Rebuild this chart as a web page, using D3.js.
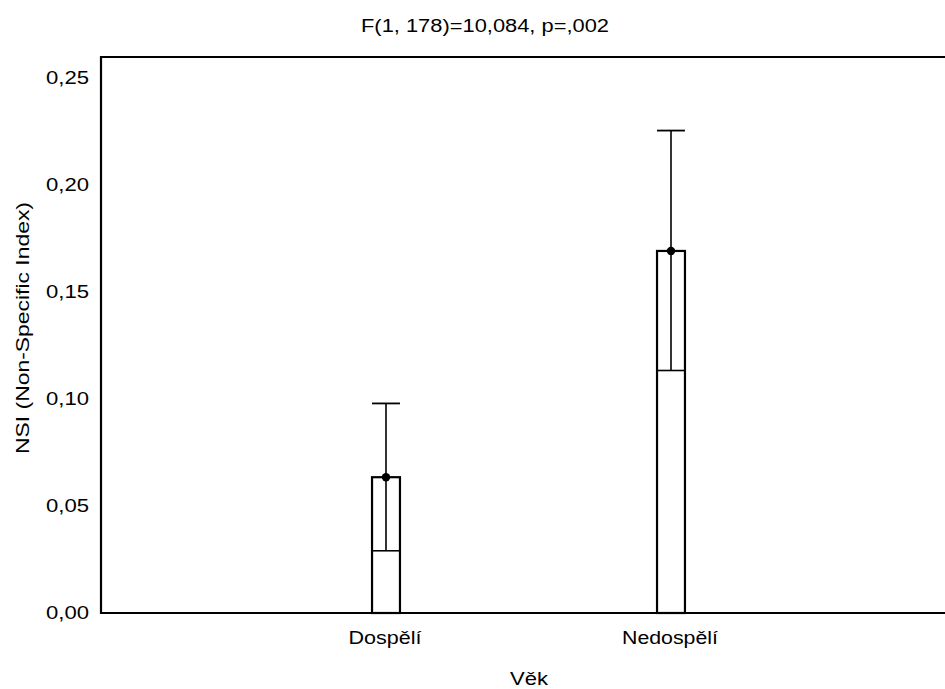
<!DOCTYPE html>
<html><head><meta charset="utf-8">
<script src="https://cdn.jsdelivr.net/npm/d3@7"></script>
<style>body{margin:0;background:#fff}svg text{font-family:"Liberation Sans",Arial,sans-serif;fill:#000}</style>
</head><body><svg id="c" width="945" height="689"></svg>
<script>
const categories = ["Dospělí", "Nedospělí"];
const means = [0.0635, 0.1693];
const medians = [0.0291, 0.1134];
const upper = [0.0980, 0.2256];
const yTicks = [0, 0.05, 0.10, 0.15, 0.20, 0.25];
const title = "F(1, 178)=10,084, p=,002";
const xTitle = "Věk";
const yTitle = "NSI (Non-Specific Index)";

const svg = d3.select("#c");
const x = d3.scaleLinear().domain([0, categories.length + 1]).range([101, 956]);
const y = d3.scaleLinear().domain([0, 0.26]).range([613, 57]);
const fmt = d => d3.format(".2f")(d).replace(".", ",");
const fs = 17.5;

// frame
svg.append("line").attr("x1", 101).attr("x2", 945).attr("y1", y(0.26)).attr("y2", y(0.26)).attr("stroke", "#000").attr("stroke-width", 2.2);
svg.append("line").attr("x1", 101).attr("x2", 945).attr("y1", y(0)).attr("y2", y(0)).attr("stroke", "#000").attr("stroke-width", 2.2);
svg.append("line").attr("x1", 101).attr("x2", 101).attr("y1", y(0.26) - 1).attr("y2", y(0) + 1).attr("stroke", "#000").attr("stroke-width", 2.2);

// y axis labels
const yAxis = d3.axisLeft(y).tickValues(yTicks).tickSize(0).tickPadding(12).tickFormat(fmt);
const ga = svg.append("g").attr("transform", "translate(101,0)").call(yAxis);
ga.select(".domain").remove();
ga.selectAll("text").attr("font-size", fs).attr("font-family", "Liberation Sans")
  .attr("textLength", 43).attr("lengthAdjust", "spacingAndGlyphs");

// x labels
const xw = [73, 96];
categories.forEach((c, i) => {
  svg.append("text").attr("x", x(i + 1) - 1).attr("y", 644).attr("text-anchor", "middle")
    .attr("font-size", fs).attr("textLength", xw[i]).attr("lengthAdjust", "spacingAndGlyphs").text(c);
});

// boxes
const bw = (x(1) - x(0)) * 0.098;
categories.forEach((c, i) => {
  const cx = x(i + 1);
  const g = svg.append("g");
  g.append("line").attr("x1", cx).attr("x2", cx).attr("y1", y(medians[i])).attr("y2", y(upper[i])).attr("stroke", "#000").attr("stroke-width", 1.6);
  g.append("line").attr("x1", cx - bw / 2).attr("x2", cx + bw / 2).attr("y1", y(upper[i])).attr("y2", y(upper[i])).attr("stroke", "#000").attr("stroke-width", 1.8);
  g.append("rect").attr("x", cx - bw / 2).attr("y", y(means[i])).attr("width", bw).attr("height", y(0) - y(means[i]))
    .attr("fill", "none").attr("stroke", "#000").attr("stroke-width", 2.2);
  g.append("line").attr("x1", cx - bw / 2).attr("x2", cx + bw / 2).attr("y1", y(medians[i])).attr("y2", y(medians[i])).attr("stroke", "#000").attr("stroke-width", 1.6);
  g.append("circle").attr("cx", cx).attr("cy", y(means[i])).attr("r", 4.2).attr("fill", "#000");
});

// titles
svg.append("text").attr("x", 485).attr("y", 32).attr("text-anchor", "middle").attr("font-size", fs)
  .attr("textLength", 248).attr("lengthAdjust", "spacingAndGlyphs").text(title);
svg.append("text").attr("x", 529).attr("y", 685).attr("text-anchor", "middle").attr("font-size", fs)
  .attr("textLength", 38).attr("lengthAdjust", "spacingAndGlyphs").text(xTitle);
svg.append("text").attr("transform", "translate(29,328) rotate(-90)").attr("text-anchor", "middle").attr("font-size", fs)
  .attr("textLength", 252).attr("lengthAdjust", "spacingAndGlyphs").text(yTitle);
</script></body></html>
